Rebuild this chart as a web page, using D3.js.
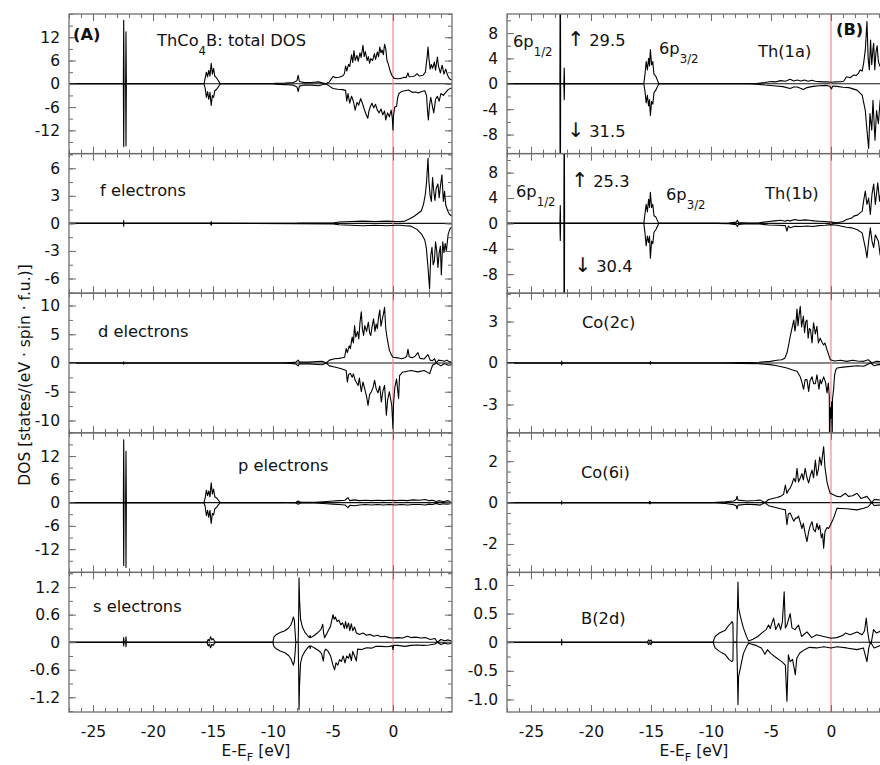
<!DOCTYPE html>
<html>
<head>
<meta charset="utf-8">
<script src="https://cdn.jsdelivr.net/npm/d3@7"></script>
<style>
  body { margin: 0; background: #fff; }
  svg { display: block; font-family: "DejaVu Sans", Verdana, sans-serif; }
</style>
</head>
<body>
<svg id="chart"></svg>
<script>
// spin-resolved DOS, [E - E_F (eV), states], spin down stored negative
const totUp = [[-27,0],[-22.47,0],[-22.44,16.4],[-22.41,0],[-22.28,0],[-22.25,13.4],[-22.22,0],
  [-15.75,0],[-15.65,1.5],[-15.55,3.0],[-15.45,1.8],[-15.35,3.5],[-15.25,2.0],[-15.15,5.3],[-15.05,2.5],[-14.95,4.0],[-14.85,2.0],[-14.7,1.5],[-14.55,0.8],[-14.4,0],
  [-10,0],[-9.8,0.1],[-9,0.2],[-8.3,0.35],[-8.0,0.8],[-7.9,2.2],[-7.8,0.6],[-7.4,0.3],[-6.8,0.35],[-6.2,0.5],[-5.6,0],[-5.3,0.5],[-5.0,1.9],
  [-4.8,1.6],[-4.5,1.7],[-4.2,2.0],[-4.05,2.6],[-3.95,4.6],[-3.85,3.3],[-3.7,5.0],[-3.6,4.5],[-3.45,7.5],[-3.35,5.5],[-3.25,8.6],[-3.15,6.0],
  [-3.0,7.3],[-2.9,5.8],[-2.75,8.0],[-2.65,6.8],[-2.5,9.9],[-2.4,7.0],[-2.3,8.3],[-2.15,6.0],[-2.05,7.0],[-1.95,5.3],[-1.85,6.5],[-1.7,6.0],
  [-1.55,7.8],[-1.45,6.3],[-1.3,8.2],[-1.2,7.0],[-1.1,9.5],[-1.0,8.0],[-0.9,8.7],[-0.8,7.5],[-0.7,10.2],[-0.6,9.0],[-0.5,6.0],[-0.4,5.2],
  [-0.25,3.5],[-0.1,2.2],[0.1,1.4],[0.4,1.3],[0.7,1.4],[0.9,1.7],[1.1,1.6],[1.25,2.8],[1.35,1.8],[1.6,1.9],[1.8,2.0],[2.0,2.6],[2.2,2.0],
  [2.5,2.2],[2.7,3.0],[2.85,7.0],[2.92,9.5],[3.0,6.5],[3.1,3.8],[3.2,5.0],[3.3,4.0],[3.45,5.6],[3.55,3.5],[3.7,6.9],[3.8,4.5],[3.95,2.8],
  [4.1,4.8],[4.25,2.5],[4.4,3.8],[4.55,2.2],[4.7,1.3],[4.9,1.0]];
const totDn = [[-27,0],[-22.47,0],[-22.44,-16.2],[-22.41,0],[-22.28,0],[-22.25,-16.0],[-22.22,0],
  [-15.75,0],[-15.65,-1.2],[-15.55,-3.5],[-15.45,-2.0],[-15.35,-4.0],[-15.25,-2.2],[-15.15,-5.6],[-15.05,-3.0],[-14.95,-3.5],[-14.85,-1.8],[-14.7,-1.4],[-14.55,-0.8],[-14.4,0],
  [-10,0],[-9.8,-0.1],[-9,-0.2],[-8.3,-0.35],[-8.0,-0.8],[-7.9,-2.0],[-7.8,-0.6],[-7.4,-0.3],[-6.8,-0.35],[-6.2,-0.5],[-5.6,0],[-5.3,-0.6],
  [-5.0,-1.2],[-4.6,-1.4],[-4.2,-1.5],[-3.95,-1.7],[-3.85,-4.5],[-3.75,-2.5],[-3.6,-5.0],[-3.45,-3.2],[-3.3,-4.5],[-3.15,-6.8],[-3.0,-4.8],
  [-2.85,-5.5],[-2.7,-3.8],[-2.55,-5.0],[-2.4,-6.5],[-2.25,-7.8],[-2.1,-8.9],[-2.0,-7.0],[-1.9,-6.0],[-1.75,-5.0],[-1.6,-6.2],[-1.45,-5.3],
  [-1.3,-6.8],[-1.15,-7.5],[-1.0,-6.5],[-0.85,-8.0],[-0.7,-7.0],[-0.6,-9.3],[-0.45,-7.5],[-0.3,-8.5],[-0.15,-6.8],[-0.05,-9.0],[0,-11.9],
  [0.05,-8.0],[0.15,-6.0],[0.3,-5.8],[0.4,-3.5],[0.5,-2.5],[0.7,-2.0],[1.0,-1.8],[1.3,-1.6],[1.6,-2.2],[1.9,-2.1],[2.1,-2.4],[2.4,-2.0],
  [2.65,-1.8],[2.8,-3.0],[2.88,-7.0],[2.95,-9.3],[3.05,-5.5],[3.15,-3.5],[3.3,-6.0],[3.4,-7.5],[3.55,-4.0],[3.7,-3.2],[3.85,-4.5],[4.0,-2.5],
  [4.2,-3.0],[4.4,-2.2],[4.6,-1.5],[4.9,-1.0]];

const fUp = [[-27,0],[-22.45,0],[-22.44,0.3],[-22.43,0],[-15.2,0],[-15.15,0.2],[-15.1,0],[-8.0,0],[-7.9,0.05],[-5,0.05],[-4.5,0.15],
  [-3.5,0.2],[-2.5,0.25],[-1.5,0.2],[-0.5,0.25],[0.2,0.2],[0.6,0.2],[1.0,0.25],[1.4,0.5],[1.8,0.8],[2.1,1.1],[2.36,1.35],[2.55,2.1],
  [2.7,3.2],[2.8,4.5],[2.92,7.1],[3.0,4.5],[3.1,3.0],[3.2,2.4],[3.3,5.0],[3.4,3.5],[3.5,2.5],[3.6,3.8],[3.75,4.3],[3.85,2.8],[3.95,4.0],
  [4.08,5.3],[4.2,2.4],[4.3,3.5],[4.4,2.0],[4.55,1.4],[4.7,1.0],[4.9,0.8]];
const fDn = [[-27,0],[-22.45,0],[-22.44,-0.3],[-22.43,0],[-15.2,0],[-15.15,-0.2],[-15.1,0],[-5,-0.05],[-4.5,-0.15],[-3.5,-0.2],
  [-2.5,-0.25],[-1.5,-0.2],[-0.5,-0.25],[0.2,-0.2],[0.6,-0.2],[1.0,-0.25],[1.5,-0.3],[2.0,-0.65],[2.4,-1.2],[2.65,-1.8],[2.78,-2.65],
  [2.92,-4.8],[3.05,-7.1],[3.15,-3.5],[3.25,-2.6],[3.35,-4.5],[3.45,-4.1],[3.55,-2.0],[3.65,-3.0],[3.75,-4.8],[3.85,-3.2],[3.95,-2.5],
  [4.03,-5.6],[4.15,-2.0],[4.25,-3.2],[4.35,-2.2],[4.45,-3.0],[4.6,-1.2],[4.75,-0.6],[4.9,-0.4]];

const dUp = [[-27,0],[-22.45,0],[-22.44,0.2],[-22.43,0],[-9.5,0],[-8.5,0.1],[-8.1,0.15],[-7.9,0.5],[-7.8,0.15],[-7.0,0.15],[-6.3,0.25],
  [-5.9,0.3],[-5.56,0],[-5.3,0.5],[-4.86,0.75],[-4.5,0.8],[-4.2,0.9],[-4.03,1.0],[-3.9,2.5],[-3.8,1.8],[-3.65,3.0],[-3.55,2.5],[-3.4,4.5],
  [-3.3,3.5],[-3.2,6.5],[-3.1,4.5],[-2.95,5.5],[-2.85,4.2],[-2.75,7.0],[-2.64,8.9],[-2.55,6.0],[-2.45,4.8],[-2.35,6.5],[-2.2,5.5],[-2.05,7.1],
  [-1.94,5.2],[-1.85,4.8],[-1.75,6.2],[-1.62,7.7],[-1.5,5.5],[-1.4,6.8],[-1.3,6.0],[-1.2,8.0],[-1.1,9.2],[-1.0,6.4],[-0.9,7.5],[-0.8,8.5],
  [-0.7,9.7],[-0.6,6.0],[-0.5,4.5],[-0.42,3.6],[-0.3,2.2],[-0.15,1.5],[0,1.0],[0.4,0.9],[0.7,0.75],[1.0,0.9],[1.15,1.2],[1.25,2.4],
  [1.35,1.1],[1.6,0.9],[1.85,1.2],[2.08,1.8],[2.25,0.8],[2.6,0.7],[2.92,1.45],[3.1,0.5],[3.3,0.4],[3.47,0.75],[3.6,0],[3.8,0.5],
  [4.1,0.4],[4.3,0.3],[4.5,0.5],[4.7,0.2],[4.9,0.15]];
const dDn = [[-27,0],[-22.45,0],[-22.44,-0.2],[-22.43,0],[-9.5,0],[-8.5,-0.1],[-8.1,-0.15],[-7.9,-0.5],[-7.8,-0.15],[-7.0,-0.15],
  [-6.3,-0.25],[-5.9,-0.3],[-5.56,0],[-5.3,-0.5],[-4.86,-0.7],[-4.3,-1.0],[-3.9,-1.3],[-3.8,-3.3],[-3.7,-2.0],[-3.55,-1.8],[-3.4,-2.5],
  [-3.3,-1.9],[-3.15,-3.0],[-2.9,-3.9],[-2.8,-2.6],[-2.64,-5.0],[-2.5,-3.3],[-2.35,-4.5],[-2.2,-5.8],[-2.08,-7.4],[-1.95,-5.5],[-1.8,-5.0],
  [-1.65,-4.2],[-1.53,-3.0],[-1.4,-4.5],[-1.25,-5.2],[-1.1,-4.0],[-0.97,-6.8],[-0.85,-5.0],[-0.7,-3.9],[-0.55,-9.1],[-0.45,-6.5],
  [-0.3,-5.0],[-0.1,-7.4],[0,-11.4],[0.05,-7.0],[0.15,-4.3],[0.3,-2.8],[0.47,-6.2],[0.55,-2.2],[0.8,-1.6],[1.5,-1.3],[2.08,-1.55],
  [2.6,-1.3],[3.06,-1.85],[3.3,-0.4],[3.6,0],[4.0,-0.5],[4.3,-0.1],[4.6,-0.4],[4.9,-0.3]];

const pUp = [[-27,0],[-22.47,0],[-22.44,16.2],[-22.41,0],[-22.28,0],[-22.25,13.2],[-22.22,0],
  [-15.75,0],[-15.65,1.2],[-15.55,3.2],[-15.45,1.8],[-15.35,3.0],[-15.25,1.5],[-15.15,5.1],[-15.05,2.2],[-14.95,3.5],[-14.85,1.5],[-14.7,1.2],[-14.55,0.6],[-14.4,0],
  [-9.5,0],[-8.1,0.1],[-7.9,0.4],[-7.7,0.1],[-6.5,0.1],[-5.5,0.3],[-5.0,0.4],[-4.5,0.5],[-4.0,0.6],[-3.75,1.3],[-3.6,0.5],[-3.2,0.7],
  [-2.8,0.5],[-2.3,0.6],[-1.8,0.5],[-1.3,0.6],[-0.8,0.5],[-0.3,0.6],[0.2,0.5],[0.7,0.6],[1.2,0.5],[1.7,0.7],[2.2,0.6],[2.7,0.8],[3.0,0.5],
  [3.3,0.6],[3.6,0.3],[3.9,0.5],[4.2,0.2],[4.5,0.5],[4.8,0.3]];
const pDn = [[-27,0],[-22.47,0],[-22.44,-16.2],[-22.41,0],[-22.28,0],[-22.25,-16.7],[-22.22,0],
  [-15.75,0],[-15.65,-1.0],[-15.55,-3.4],[-15.45,-2.0],[-15.35,-3.8],[-15.25,-2.0],[-15.15,-5.4],[-15.05,-2.8],[-14.95,-3.2],[-14.85,-1.6],[-14.7,-1.2],[-14.55,-0.6],[-14.4,0],
  [-9.5,0],[-8.1,-0.1],[-7.9,-0.4],[-7.7,-0.1],[-6.5,-0.1],[-5.5,-0.3],[-5.0,-0.4],[-4.5,-0.5],[-4.0,-0.6],[-3.75,-1.3],[-3.6,-0.7],
  [-3.2,-0.8],[-2.8,-0.6],[-2.3,-0.5],[-1.8,-0.6],[-1.3,-0.5],[-0.8,-0.6],[-0.3,-0.5],[0.2,-0.6],[0.7,-0.5],[1.2,-0.6],[1.7,-0.5],
  [2.2,-0.5],[2.7,-0.6],[3.0,-0.4],[3.3,-0.5],[3.6,-0.2],[3.9,-0.5],[4.2,-0.3],[4.5,-0.4],[4.8,-0.3]];

const sUp = [[-27,0],[-22.47,0],[-22.44,0.1],[-22.41,0],[-22.28,0],[-22.25,0.12],[-22.22,0],[-15.5,0],[-15.4,0.06],[-15.3,0.03],
  [-15.2,0.12],[-15.1,0.05],[-15.0,0.08],[-14.8,0],[-10.0,0],[-9.97,0.05],[-9.9,0.12],[-9.7,0.17],[-9.4,0.21],[-9.0,0.25],[-8.7,0.31],
  [-8.5,0.38],[-8.38,0.47],[-8.3,0.55],[-8.22,0.48],[-8.15,0.2],[-8.1,0],[-7.9,0],[-7.86,0.6],[-7.83,1.4],[-7.78,0.9],[-7.7,0.5],
  [-7.55,0.33],[-7.35,0.22],[-7.1,0.14],[-6.95,0.1],[-6.9,0.15],[-6.85,0.1],[-6.6,0.14],[-6.3,0.2],[-6.0,0.28],[-5.85,0.39],[-5.78,0.2],
  [-5.7,0.1],[-5.55,0.17],[-5.4,0.25],[-5.2,0.35],[-5.0,0.6],[-4.9,0.5],[-4.8,0.55],[-4.65,0.45],[-4.5,0.48],[-4.35,0.38],[-4.2,0.42],
  [-4.05,0.3],[-3.95,0.45],[-3.85,0.3],[-3.7,0.42],[-3.6,0.25],[-3.47,0.4],[-3.35,0.25],[-3.2,0.33],[-3.05,0.2],[-2.8,0.17],[-2.5,0.2],
  [-2.2,0.15],[-1.9,0.17],[-1.6,0.13],[-1.3,0.15],[-1.0,0.12],[-0.7,0.13],[-0.3,0.1],[0,0.09],[0.4,0.1],[0.8,0.09],[1.2,0.13],[1.5,0.1],
  [1.9,0.11],[2.3,0.09],[2.7,0.1],[3.1,0.06],[3.5,0.08],[3.7,0],[4.0,0.06],[4.3,0.03],[4.6,0.05],[4.9,0.02]];
const sDn = [[-27,0],[-22.47,0],[-22.44,-0.08],[-22.41,0],[-22.28,0],[-22.25,-0.1],[-22.22,0],[-15.5,0],[-15.4,-0.08],[-15.3,-0.04],
  [-15.2,-0.12],[-15.1,-0.05],[-15.0,-0.07],[-14.8,0],[-10.0,0],[-9.97,-0.05],[-9.9,-0.1],[-9.7,-0.15],[-9.4,-0.19],[-9.0,-0.23],
  [-8.7,-0.29],[-8.5,-0.36],[-8.38,-0.45],[-8.3,-0.5],[-8.22,-0.42],[-8.15,-0.2],[-8.1,0],[-7.9,0],[-7.86,-0.6],[-7.83,-1.47],[-7.78,-0.9],
  [-7.7,-0.45],[-7.55,-0.3],[-7.35,-0.2],[-7.1,-0.12],[-6.95,-0.08],[-6.9,-0.14],[-6.85,-0.08],[-6.5,-0.13],[-6.2,-0.18],[-5.95,-0.25],
  [-5.8,-0.41],[-5.72,-0.2],[-5.6,-0.15],[-5.4,-0.2],[-5.2,-0.3],[-5.0,-0.5],[-4.86,-0.6],[-4.75,-0.45],[-4.6,-0.5],[-4.45,-0.38],
  [-4.3,-0.42],[-4.15,-0.3],[-4.0,-0.45],[-3.85,-0.3],[-3.7,-0.35],[-3.6,-0.25],[-3.47,-0.4],[-3.35,-0.2],[-3.2,-0.3],[-3.05,-0.41],
  [-2.95,-0.15],[-2.6,-0.16],[-2.2,-0.12],[-1.8,-0.13],[-1.4,-0.09],[-1.0,-0.09],[-0.5,-0.1],[-0.05,-0.08],[0,-0.16],[0.05,-0.07],
  [0.4,-0.07],[1.0,-0.09],[1.5,-0.07],[2.0,-0.06],[2.5,-0.07],[3.0,-0.06],[3.5,-0.04],[3.7,0],[4.0,-0.05],[4.3,-0.02],[4.6,-0.04],[4.9,-0.02]];

const th1aUp = [[-27,0],[-22.59,0],[-22.56,29.5],[-22.53,0],[-22.26,0],[-22.23,2.5],[-22.2,0],
  [-15.6,0],[-15.5,1.5],[-15.4,3.5],[-15.3,2.2],[-15.2,4.0],[-15.12,2.8],[-15.05,5.4],[-14.95,3.0],[-14.85,3.5],[-14.75,1.5],[-14.6,1.2],[-14.45,0.5],[-14.35,0],
  [-7,0],[-6.2,0.05],[-5.5,0.2],[-5.0,0.35],[-4.6,0.3],[-4.2,0.5],[-3.8,0.4],[-3.4,0.7],[-3.1,0.45],[-2.8,0.6],[-2.5,0.45],[-2.2,0.6],
  [-1.9,0.4],[-1.6,0.55],[-1.3,0.4],[-1.0,0.35],[-0.6,0.3],[-0.3,0.3],[0,0.25],[0.4,0.3],[0.8,0.35],[1.06,0.4],[1.3,1.1],[1.6,0.95],
  [1.9,1.4],[2.1,1.3],[2.3,1.7],[2.44,2.2],[2.6,2.0],[2.72,3.2],[2.86,5.3],[3.0,9.8],[3.1,4.0],[3.2,2.2],[3.3,6.9],[3.4,3.0],[3.5,5.5],
  [3.56,6.4],[3.65,2.2],[3.75,5.0],[3.85,6.0],[3.95,3.5],[4.1,2.7],[4.3,5.5],[4.5,3.0],[4.7,4.5],[4.9,2.5]];
const th1aDn = [[-27,0],[-22.59,0],[-22.56,-31.5],[-22.53,0],[-22.26,0],[-22.23,-2.5],[-22.2,0],
  [-15.6,0],[-15.5,-1.2],[-15.4,-3.0],[-15.3,-1.8],[-15.2,-3.5],[-15.12,-2.5],[-15.05,-5.0],[-14.95,-2.8],[-14.85,-3.2],[-14.75,-1.4],[-14.6,-1.0],[-14.45,-0.4],[-14.35,0],
  [-7,0],[-6.2,-0.05],[-5.5,-0.2],[-4.6,-0.35],[-4.0,-0.45],[-3.4,-0.74],[-3.1,-0.5],[-2.8,-0.5],[-2.3,-0.9],[-2.0,-0.6],[-1.5,-0.4],
  [-1.0,-0.3],[-0.4,-0.25],[-0.1,-0.4],[0.05,-0.8],[0.15,-0.35],[0.5,-0.4],[1.0,-0.55],[1.5,-0.6],[2.17,-1.0],[2.6,-1.8],[2.86,-4.2],
  [3.0,-7.3],[3.14,-10.2],[3.25,-4.7],[3.4,-7.3],[3.5,-2.6],[3.67,-8.9],[3.8,-4.2],[3.95,-6.3],[4.1,-2.6],[4.3,-6.0],[4.5,-3.5],[4.7,-5.0],[4.9,-3.0]];

const th1bUp = [[-27,0],[-22.59,0],[-22.56,2.8],[-22.53,0],[-22.26,0],[-22.23,25.3],[-22.2,0],
  [-15.6,0],[-15.5,1.5],[-15.4,3.0],[-15.3,1.8],[-15.2,3.8],[-15.12,2.5],[-15.05,4.9],[-14.95,2.5],[-14.85,3.0],[-14.75,1.2],[-14.6,1.0],[-14.45,0.4],[-14.35,0],
  [-9.5,0],[-8.5,0.05],[-7.9,0.2],[-7.8,0.5],[-7.7,0.15],[-7.0,0.05],[-6.0,0.1],[-5.2,0.3],[-4.7,0.4],[-4.2,0.5],[-3.8,0.35],[-3.67,0.5],
  [-3.4,0.4],[-3.0,0.6],[-2.6,0.45],[-2.2,0.55],[-1.8,0.5],[-1.4,0.4],[-1.0,0.35],[-0.5,0.3],[0,0.2],[0.5,0.1],[1.0,0.3],[1.3,0.6],[1.7,0.8],
  [1.9,1.15],[2.2,1.3],[2.44,1.7],[2.6,1.9],[2.72,3.5],[2.86,5.1],[3.0,3.0],[3.14,4.0],[3.28,1.4],[3.42,4.6],[3.56,6.2],[3.7,3.0],[3.9,6.4],
  [4.05,3.5],[4.2,5.5],[4.4,3.0],[4.6,4.2],[4.9,2.5]];
const th1bDn = [[-27,0],[-22.59,0],[-22.56,-2.7],[-22.53,0],[-22.26,0],[-22.23,-30.4],[-22.2,0],
  [-15.6,0],[-15.5,-1.5],[-15.4,-3.5],[-15.3,-2.0],[-15.2,-3.0],[-15.12,-2.0],[-15.05,-5.5],[-14.95,-2.8],[-14.85,-3.2],[-14.75,-1.4],[-14.6,-1.0],[-14.45,-0.4],[-14.35,0],
  [-9.5,0],[-8.5,-0.05],[-7.9,-0.2],[-7.8,-0.5],[-7.7,-0.15],[-7.0,-0.05],[-6.0,-0.1],[-5.2,-0.25],[-4.5,-0.3],[-3.8,-0.35],[-3.67,-1.2],
  [-3.55,-0.4],[-3.4,-0.7],[-3.0,-0.45],[-2.5,-0.5],[-2.0,-0.4],[-1.5,-0.5],[-1.0,-0.35],[-0.5,-0.3],[0,-0.2],[0.5,-0.3],[1.3,-0.6],
  [1.7,-0.7],[2.17,-0.95],[2.6,-1.5],[2.86,-3.8],[3.0,-5.4],[3.14,-2.8],[3.28,-0.7],[3.42,-2.8],[3.56,-3.8],[3.7,-1.8],[3.95,-2.8],
  [4.1,-5.0],[4.3,-2.5],[4.5,-3.8],[4.7,-2.0],[4.9,-3.0]];

const co2cUp = [[-27,0],[-22.45,0],[-22.44,0.15],[-22.43,0],[-15.1,0],[-15.05,0.1],[-15.0,0],[-9,0],[-7.5,0.03],[-6,0.05],[-5.06,0.12],
  [-4.5,0.2],[-4.1,0.24],[-3.85,0.35],[-3.67,0.72],[-3.55,1.2],[-3.4,1.9],[-3.25,2.5],[-3.1,3.1],[-3.0,2.3],[-2.95,2.6],[-2.83,3.9],
  [-2.75,2.7],[-2.65,3.5],[-2.56,4.1],[-2.45,2.6],[-2.3,3.4],[-2.2,2.2],[-2.1,3.0],[-2.0,3.1],[-1.9,1.8],[-1.8,2.5],[-1.7,2.4],[-1.58,1.45],
  [-1.45,2.9],[-1.3,2.1],[-1.17,2.65],[-1.05,1.45],[-0.9,1.8],[-0.75,1.5],[-0.61,1.3],[-0.5,1.45],[-0.33,0.96],[-0.15,0.5],[-0.06,0.24],
  [0.3,0.15],[0.8,0.2],[1.3,0.12],[1.8,0.2],[2.2,0.15],[2.72,0.12],[3.1,0.24],[3.4,0],[3.8,0.12],[4.2,0.1],[4.6,0.15],[4.9,0.1]];
const co2cDn = [[-27,0],[-22.45,0],[-22.44,-0.15],[-22.43,0],[-15.1,0],[-15.05,-0.1],[-15.0,0],[-9,0],[-7.5,-0.03],[-6,-0.05],
  [-5.06,-0.12],[-4.5,-0.2],[-3.67,-0.36],[-3.2,-0.5],[-2.83,-0.6],[-2.56,-1.0],[-2.45,-1.3],[-2.28,-1.9],[-2.15,-1.2],[-2.0,-1.2],
  [-1.86,-2.05],[-1.75,-1.3],[-1.58,-1.0],[-1.45,-1.5],[-1.3,-1.5],[-1.17,-0.85],[-1.0,-1.9],[-0.9,-1.2],[-0.8,-1.5],[-0.61,-1.0],
  [-0.45,-1.4],[-0.33,-2.17],[-0.22,-1.45],[-0.14,-2.4],[-0.12,-6],[-0.06,-3.2],[0,-4.0],[0.06,-2.8],[0.1,-6],[0.13,-2.6],[0.22,-1.9],
  [0.3,-0.9],[0.4,-0.5],[0.5,-0.36],[1.0,-0.3],[2.17,-0.2],[2.72,-0.24],[3.3,0],[3.6,-0.2],[4.0,-0.1],[4.5,-0.2],[4.9,-0.1]];

const co6iUp = [[-27,0],[-22.45,0],[-22.44,0.08],[-22.43,0],[-15.2,0],[-15.1,0.06],[-15.0,0],[-9.8,0],[-9.5,0.02],[-8.8,0.04],
  [-8.1,0.08],[-7.9,0.15],[-7.83,0.3],[-7.75,0.12],[-7.0,0.08],[-6.3,0.1],[-5.9,0.12],[-5.5,0],[-5.2,0.15],[-4.86,0.2],[-4.5,0.25],
  [-4.2,0.3],[-3.95,0.4],[-3.8,0.85],[-3.67,0.45],[-3.55,0.6],[-3.4,0.7],[-3.25,0.9],[-3.1,1.17],[-2.95,1.0],[-2.83,1.65],[-2.7,1.0],
  [-2.55,1.2],[-2.42,1.4],[-2.3,1.1],[-2.15,1.65],[-2.0,1.2],[-1.86,0.95],[-1.72,1.3],[-1.58,1.57],[-1.45,1.2],[-1.3,2.05],[-1.17,1.3],
  [-1.05,1.6],[-0.94,2.2],[-0.8,1.8],[-0.7,2.3],[-0.61,2.7],[-0.5,1.7],[-0.33,1.0],[-0.2,0.7],[-0.06,0.45],[0.3,0.35],[0.5,0.3],[0.8,0.28],
  [1.2,0.45],[1.45,0.3],[1.8,0.33],[2.17,0.45],[2.5,0.2],[3.0,0.3],[3.4,0],[3.6,0.15],[4.0,0.13],[4.4,0.12],[4.9,0.1]];
const co6iDn = [[-27,0],[-22.45,0],[-22.44,-0.08],[-22.43,0],[-15.2,0],[-15.1,-0.06],[-15.0,0],[-9.8,0],[-9.5,-0.02],[-8.8,-0.04],
  [-8.1,-0.1],[-7.9,-0.15],[-7.83,-0.3],[-7.75,-0.12],[-7.0,-0.08],[-6.3,-0.1],[-5.9,-0.12],[-5.5,0],[-5.2,-0.15],[-4.86,-0.2],
  [-4.2,-0.3],[-3.8,-0.35],[-3.67,-1.07],[-3.55,-0.55],[-3.4,-0.5],[-3.25,-0.7],[-3.1,-0.9],[-2.95,-0.75],[-2.83,-0.75],[-2.7,-0.65],
  [-2.42,-1.25],[-2.3,-1.0],[-2.15,-1.5],[-2.0,-1.88],[-1.86,-1.4],[-1.72,-1.1],[-1.58,-0.92],[-1.45,-1.3],[-1.3,-1.4],[-1.17,-1.0],
  [-1.05,-1.3],[-0.94,-1.1],[-0.8,-1.7],[-0.7,-1.5],[-0.61,-2.2],[-0.5,-1.4],[-0.33,-1.2],[-0.2,-1.25],[-0.06,-1.1],[0.1,-0.9],
  [0.22,-0.75],[0.5,-0.27],[1.3,-0.3],[2.17,-0.35],[2.72,-0.27],[3.1,-0.2],[3.4,0],[3.6,-0.14],[4.0,-0.12],[4.5,-0.1],[4.9,-0.1]];

const b2dUp = [[-27,0],[-22.45,0],[-22.44,0.05],[-22.43,0],[-15.3,0],[-15.2,0.04],[-15.1,0.02],[-15.0,0.04],[-14.9,0],[-9.8,0],
  [-9.75,0.05],[-9.65,0.1],[-9.3,0.16],[-8.8,0.21],[-8.5,0.3],[-8.35,0.33],[-8.25,0.36],[-8.17,0.33],[-8.15,0],[-7.85,0],[-7.8,0.5],
  [-7.75,1.05],[-7.7,0.6],[-7.55,0.45],[-7.3,0.25],[-7.0,0.08],[-6.86,0.02],[-6.5,0.05],[-6.1,0.1],[-5.6,0.19],[-5.4,0.22],[-5.2,0.3],
  [-5.06,0.24],[-4.9,0.35],[-4.78,0.42],[-4.6,0.22],[-4.35,0.33],[-4.2,0.22],[-4.05,0.35],[-3.9,0.88],[-3.8,0.25],[-3.67,0.3],[-3.4,0.5],
  [-3.25,0.25],[-3.0,0.22],[-2.7,0.3],[-2.45,0.1],[-2.0,0.18],[-1.6,0.08],[-1.2,0.13],[-0.6,0.1],[0,0.07],[0.5,0.08],[1.0,0.12],[1.2,0.16],
  [1.6,0.13],[2.17,0.18],[2.6,0.13],[2.8,0.2],[2.94,0.42],[3.06,0.18],[3.2,0],[3.35,-0.02],[3.55,0.22],[3.8,0.16],[4.2,0.2],[4.5,0.1],[4.9,0.15]];
const b2dDn = [[-27,0],[-22.45,0],[-22.44,-0.05],[-22.43,0],[-15.3,0],[-15.2,-0.04],[-15.1,-0.02],[-15.0,-0.04],[-14.9,0],[-9.8,0],
  [-9.75,-0.05],[-9.65,-0.1],[-9.3,-0.16],[-8.8,-0.22],[-8.5,-0.3],[-8.25,-0.34],[-8.17,-0.32],[-8.15,0],[-7.85,0],[-7.8,-0.5],
  [-7.75,-1.09],[-7.7,-0.6],[-7.5,-0.4],[-7.3,-0.2],[-7.0,-0.06],[-6.86,-0.02],[-6.2,-0.06],[-5.8,-0.1],[-5.5,-0.21],[-5.3,-0.13],
  [-5.0,-0.2],[-4.5,-0.28],[-4.1,-0.34],[-3.8,-0.4],[-3.67,-1.03],[-3.55,-0.22],[-3.4,-0.34],[-3.2,-0.3],[-2.97,-0.57],[-2.85,-0.28],
  [-2.6,-0.19],[-2.2,-0.13],[-1.8,-0.09],[-1.2,-0.1],[-0.6,-0.08],[0,-0.1],[0.5,-0.08],[1.3,-0.1],[2.17,-0.13],[2.7,-0.1],[3.0,-0.34],
  [3.15,-0.1],[3.3,0],[3.6,-0.1],[4.2,-0.05],[4.9,-0.08]];

// tick labels
const energyTicks = [-25, -20, -15, -10, -5, 0];
const totTicks = [12, 6, 0, -6, -12];
const fTicks = [6, 3, 0, -3, -6];
const dTicks = [10, 5, 0, -5, -10];
const pTicks = [12, 6, 0, -6, -12];
const sTicks = [1.2, 0.6, 0, -0.6, -1.2];
const thTicks = [8, 4, 0, -4, -8];
const co2cTicks = [3, 0, -3];
const co6iTicks = [2, 0, -2];
const b2dTicks = [1.0, 0.5, 0, -0.5, -1.0];

const W = 880, H = 765;
const top0 = 14, ph = 139.6;
const cols = [[69, 452], [507, 890]];
const frameCol = '#6e6e6e';
const font = '"DejaVu Sans", Verdana, sans-serif';

const svg = d3.select('#chart').attr('width', W).attr('height', H);
svg.append('rect').attr('width', W).attr('height', H).attr('fill', '#fff');

const xs = cols.map(c => d3.scaleLinear().domain([-27, 4.92]).range(c));

const panels = [
  {col: 0, row: 0, up: totUp, dn: totDn, lim: 18, ticks: totTicks, step: 3, dec: 0},
  {col: 0, row: 1, up: fUp, dn: fDn, lim: 7.6, ticks: fTicks, step: 1.5, dec: 0},
  {col: 0, row: 2, up: dUp, dn: dDn, lim: 12.15, ticks: dTicks, step: 2.5, dec: 0},
  {col: 0, row: 3, up: pUp, dn: pDn, lim: 18, ticks: pTicks, step: 3, dec: 0},
  {col: 0, row: 4, up: sUp, dn: sDn, lim: 1.52, ticks: sTicks, step: 0.3, dec: 1},
  {col: 1, row: 0, up: th1aUp, dn: th1aDn, lim: 11, ticks: thTicks, step: 2, dec: 0},
  {col: 1, row: 1, up: th1bUp, dn: th1bDn, lim: 11, ticks: thTicks, step: 2, dec: 0},
  {col: 1, row: 2, up: co2cUp, dn: co2cDn, lim: 5.05, ticks: co2cTicks, step: 1, dec: 0},
  {col: 1, row: 3, up: co6iUp, dn: co6iDn, lim: 3.37, ticks: co6iTicks, step: 0.5, dec: 0},
  {col: 1, row: 4, up: b2dUp, dn: b2dDn, lim: 1.22, ticks: b2dTicks, step: 0.25, dec: 1}
];

const xMinor = d3.range(-27, 5);

function styleAxis(sel) {
  sel.select('.domain').remove();
  sel.selectAll('.tick line').attr('stroke', frameCol).attr('stroke-width', 1);
  sel.selectAll('.tick text').attr('fill', '#111').attr('font-size', 15.5)
    .attr('font-family', font);
}

panels.forEach((p, i) => {
  const x = xs[p.col];
  const [x0, x1] = cols[p.col];
  const y0 = top0 + p.row * ph, y1 = y0 + ph;
  const y = d3.scaleLinear().domain([-p.lim, p.lim]).range([y1, y0]);
  const g = svg.append('g');
  const n = Math.floor(p.lim / p.step + 1e-9);
  const yMinor = d3.range(-n, n + 1).map(k => +(k * p.step).toFixed(4));
  const fmt = v => v === 0 ? '0' : v.toFixed(p.dec);

  // clipped plot content
  g.append('clipPath').attr('id', 'clip' + i)
    .append('rect').attr('x', x0).attr('y', y0).attr('width', x1 - x0).attr('height', ph);
  const plot = g.append('g').attr('clip-path', `url(#clip${i})`);

  plot.append('line')
    .attr('x1', x0).attr('x2', x1).attr('y1', y(0)).attr('y2', y(0))
    .attr('stroke', '#111').attr('stroke-width', 1.1);

  plot.append('line')
    .attr('x1', x(0)).attr('x2', x(0)).attr('y1', y0).attr('y2', y1)
    .attr('stroke', '#f08c8c').attr('stroke-width', 1.2);

  const line = d3.line().x(d => x(d[0])).y(d => y(d[1]));
  [p.up, p.dn].forEach(series => {
    plot.append('path').datum(series)
      .attr('d', line)
      .attr('fill', 'none')
      .attr('stroke', '#000')
      .attr('stroke-width', 1.1)
      .attr('stroke-linejoin', 'round');
  });

  // inward ticks on all four sides
  g.append('g').attr('transform', `translate(${x0},0)`)
    .call(d3.axisLeft(y).tickValues(yMinor).tickSize(-4).tickFormat('')).call(styleAxis);
  g.append('g').attr('transform', `translate(${x0},0)`)
    .call(d3.axisLeft(y).tickValues(p.ticks).tickSize(-7).tickPadding(9).tickFormat(fmt)).call(styleAxis);
  g.append('g').attr('transform', `translate(${x1},0)`)
    .call(d3.axisRight(y).tickValues(yMinor).tickSize(-4).tickFormat('')).call(styleAxis);
  g.append('g').attr('transform', `translate(${x1},0)`)
    .call(d3.axisRight(y).tickValues(p.ticks).tickSize(-7).tickFormat('')).call(styleAxis);

  g.append('g').attr('transform', `translate(0,${y0})`)
    .call(d3.axisTop(x).tickValues(xMinor).tickSize(-4).tickFormat('')).call(styleAxis);
  g.append('g').attr('transform', `translate(0,${y0})`)
    .call(d3.axisTop(x).tickValues(energyTicks).tickSize(-7).tickFormat('')).call(styleAxis);
  g.append('g').attr('transform', `translate(0,${y1})`)
    .call(d3.axisBottom(x).tickValues(xMinor).tickSize(-4).tickFormat('')).call(styleAxis);
  const bottomAxis = d3.axisBottom(x).tickValues(energyTicks).tickSize(-7)
    .tickPadding(13.5).tickFormat(p.row === 4 ? (v => String(v)) : '');
  g.append('g').attr('transform', `translate(0,${y1})`).call(bottomAxis).call(styleAxis);

  g.append('rect')
    .attr('x', x0).attr('y', y0).attr('width', x1 - x0).attr('height', ph)
    .attr('fill', 'none').attr('stroke', frameCol).attr('stroke-width', 1.3);
});

// text helper: parts are [text, kind?] where kind is 'sub' or 'arrow'
function addText(x, y, parts, opts = {}) {
  const size = opts.size || 16.3;
  const drop = opts.drop || 9;
  const t = svg.append('text').attr('x', x).attr('y', y)
    .attr('font-size', size).attr('fill', '#111').attr('font-family', font);
  if (opts.bold) t.attr('font-weight', 'bold');
  if (opts.anchor) t.attr('text-anchor', opts.anchor);
  let shift = 0;
  parts.forEach(pt => {
    const s = t.append('tspan').text(pt[0]);
    if (pt[1] === 'sub') {
      s.attr('font-size', size * 0.72).attr('dy', drop - shift);
      shift = drop;
    } else {
      if (pt[1] === 'arrow') s.attr('font-size', size * 1.25);
      if (shift) {
        s.attr('dy', -shift);
        shift = 0;
      }
    }
  });
  return t;
}

// left column labels
addText(73, 39.5, [['(A)']], {bold: true});
addText(157, 45.5, [['ThCo'], ['4', 'sub'], ['B: total DOS']]);
addText(100, 196, [['f electrons']]);
addText(98, 337, [['d electrons']]);
addText(238, 471, [['p electrons']]);
addText(93, 612, [['s electrons']]);

// right column labels
addText(836, 34.5, [['(B)']], {bold: true});
addText(513, 47, [['6p'], ['1/2', 'sub']]);
addText(567, 46, [['\u2191', 'arrow'], [' 29.5']]);
addText(659, 53.5, [['6p'], ['3/2', 'sub']]);
addText(758, 57, [['Th(1a)']]);
addText(567, 137, [['\u2193', 'arrow'], [' 31.5']]);

addText(516, 197, [['6p'], ['1/2', 'sub']]);
addText(571, 187, [['\u2191', 'arrow'], [' 25.3']]);
addText(666, 200, [['6p'], ['3/2', 'sub']]);
addText(765, 198.5, [['Th(1b)']]);
addText(574, 272, [['\u2193', 'arrow'], [' 30.4']]);

addText(582, 328, [['Co(2c)']]);
addText(581, 477.5, [['Co(6i)']]);
addText(581, 624, [['B(2d)']]);

// axis titles
addText(256, 755.5, [['E-E'], ['F', 'sub'], [' [eV]']], {anchor: 'middle', size: 15.5, drop: 5});
addText(694, 755.5, [['E-E'], ['F', 'sub'], [' [eV]']], {anchor: 'middle', size: 15.5, drop: 5});
svg.append('text')
  .attr('transform', 'translate(30,375) rotate(-90)')
  .attr('text-anchor', 'middle')
  .attr('font-family', font)
  .attr('font-size', 15.5).attr('fill', '#111')
  .text('DOS [states/(eV \u00b7 spin \u00b7 f.u.)]');
</script>
</body>
</html>
